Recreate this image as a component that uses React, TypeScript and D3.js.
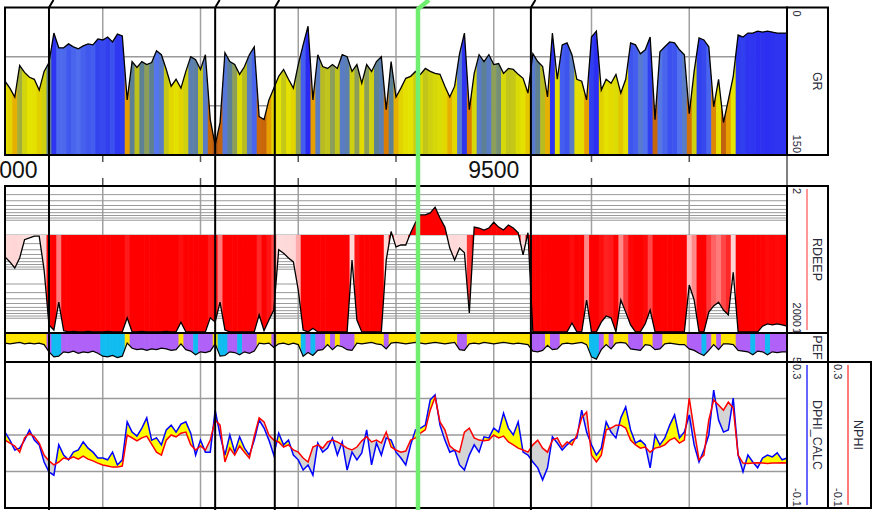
import React from "react";
import * as d3 from "d3";

// ---------------- data ----------------
const DEPTH_START = 9000;
const DEPTH_STEP = 5;
const DEPTH_DOMAIN = [9000, 9800];
const GRID_DEPTHS = [9000, 9100, 9200, 9300, 9400, 9500, 9600, 9700, 9800];
const LABEL_DEPTHS = [9000, 9500];
const TOP_DEPTHS = [9045, 9215, 9276, 9422.5, 9538];
const TOP_COLORS = ["#000", "#000", "#000", "#70ee70", "#000"];

const GR = [
  75, 82, 91, 59, 66, 71, 73, 84, 65, 56,
  26, 41, 41, 37, 40, 42, 39, 37, 38, 32,
  33, 30, 35, 27, 29, 94, 55, 61, 55, 58,
  56, 44, 48, 63, 80, 73, 82, 65, 50, 53,
  63, 48, 114, 140, 117, 46, 55, 58, 68, 60,
  48, 40, 111, 114, 94, 82, 70, 63, 73, 82,
  58, 38, 19, 94, 48, 60, 62, 58, 62, 48,
  50, 65, 58, 77, 58, 65, 55, 50, 104, 55,
  91, 82, 72, 70, 65, 68, 62, 65, 67, 68,
  80, 91, 80, 47, 26, 104, 67, 48, 55, 48,
  58, 57, 67, 62, 63, 68, 72, 87, 47, 55,
  60, 91, 26, 73, 38, 36, 48, 73, 75, 94,
  30, 24, 84, 73, 77, 68, 87, 73, 36, 38,
  47, 43, 30, 114, 45, 40, 35, 36, 43, 48,
  108, 65, 31, 33, 40, 101, 73, 117, 94, 70,
  28, 30, 26, 26, 24, 25, 24, 25, 26, 26,
  26,
];

const RDEEP = [
  56, 71, 94, 59, 25, 23, 21, 21, 103, 1370,
  1740, 470, 1800, 1900, 1850, 1900, 1900, 1850, 1900, 1900,
  1900, 1850, 1900, 1900, 1900, 980, 1900, 1900, 1850, 1900,
  1900, 1900, 1900, 1850, 1900, 1900, 1200, 1900, 1900, 1900,
  1900, 1900, 980, 1200, 470, 1740, 1900, 1900, 1900, 1900,
  1900, 1900, 850, 1800, 1090, 680, 40, 47, 59, 71,
  265, 1740, 1900, 1600, 1900, 1900, 1900, 1900, 1900, 1900,
  1900, 65, 1090, 1900, 1900, 1900, 1900, 1900, 65, 17,
  35, 32, 32, 18, 11, 7.8, 7.8, 7.1, 5.4, 9,
  13.8, 37, 65, 37, 46, 780, 13.8, 14.4, 15.8, 14.4,
  11, 13.8, 15.8, 12.5, 14.4, 18, 51, 18, 1900, 1900,
  1900, 1900, 1900, 1900, 1900, 1900, 1250, 1900, 1900, 424,
  1900, 1900, 1200, 900, 980, 1900, 424, 750, 1370, 1900,
  1900, 1300, 680, 1900, 1900, 1900, 1900, 1900, 1900, 1900,
  210, 424, 1900, 1900, 750, 560, 470, 680, 850, 115,
  1900, 1900, 1900, 1900, 1900, 1450, 1300, 1370, 1300, 1370,
  1450,
];

const PEF = [
  2.4, 2.5, 2.4, 2.3, 2.5, 2.4, 2.5, 2.4, 2.6, 3.6,
  4.3, 4.2, 3.6, 3.7, 3.5, 3.8, 3.6, 3.7, 3.5, 3.8,
  4.2, 4.3, 4.1, 4.4, 4.2, 2.4, 3.1, 3.3, 3.2, 3.4,
  3.2, 3.3, 3.1, 3.2, 3.4, 3.3, 2.5, 3.3, 3.5, 4.0,
  3.6, 3.7, 3.5, 2.5, 4.2, 4.1, 3.6, 3.7, 4.0, 3.6,
  3.8, 3.5, 2.4, 2.5, 2.4, 3.0, 2.5, 2.4, 2.6, 2.4,
  2.6, 4.2, 3.7, 4.1, 3.4, 3.3, 2.6, 3.3, 2.7, 2.9,
  3.3, 3.4, 2.4, 2.5, 2.4, 2.3, 2.5, 2.6, 3.2, 2.4,
  2.3, 2.4, 2.5, 2.4, 2.3, 2.4, 2.5, 2.4, 2.3, 2.4,
  2.5, 2.4, 2.3, 3.3, 3.4, 2.5, 2.4, 2.5, 2.3, 2.4,
  2.5, 2.4, 2.3, 2.4, 2.5, 2.4, 2.5, 2.6, 3.5, 3.6,
  3.4, 2.7, 3.3, 3.2, 2.5, 2.4, 2.5, 2.4, 2.3, 2.6,
  4.3, 4.6, 3.3, 2.6, 3.2, 2.4, 2.3, 2.4, 3.2, 3.3,
  3.4, 2.6, 2.7, 3.3, 3.2, 2.5, 2.4, 2.5, 2.6, 2.6,
  3.2, 3.4, 3.8, 4.1, 3.4, 2.6, 3.3, 2.5, 2.5, 2.6,
  3.4, 3.5, 3.6, 4.0, 3.5, 3.6, 4.0, 3.6, 3.7, 3.6,
  3.6,
];

const NPHI = [
  0.086, 0.078, 0.070, 0.053, 0.092, 0.105, 0.095, 0.078, 0.045, 0.029,
  0.018, 0.026, 0.037, 0.034, 0.040, 0.034, 0.042, 0.034, 0.029, 0.023,
  0.018, 0.015, 0.012, 0.012, 0.015, 0.100, 0.092, 0.084, 0.092, 0.097,
  0.075, 0.053, 0.045, 0.086, 0.100, 0.095, 0.105, 0.108, 0.073, 0.059,
  0.070, 0.059, 0.086, 0.141, 0.127, 0.026, 0.064, 0.045, 0.070, 0.053,
  0.037, 0.097, 0.147, 0.136, 0.100, 0.086, 0.081, 0.067, 0.073, 0.059,
  0.053, 0.037, 0.026, 0.067, 0.073, 0.064, 0.081, 0.086, 0.081, 0.073,
  0.064, 0.059, 0.067, 0.084, 0.095, 0.081, 0.086, 0.078, 0.108, 0.067,
  0.059, 0.053, 0.056, 0.086, 0.092, 0.105, 0.114, 0.168, 0.204, 0.136,
  0.114, 0.070, 0.059, 0.053, 0.108, 0.119, 0.092, 0.086, 0.084, 0.086,
  0.100, 0.092, 0.097, 0.081, 0.073, 0.064, 0.059, 0.053, 0.073, 0.086,
  0.064, 0.053, 0.086, 0.092, 0.067, 0.081, 0.073, 0.100, 0.147, 0.163,
  0.045, 0.026, 0.045, 0.114, 0.119, 0.127, 0.127, 0.119, 0.086, 0.073,
  0.064, 0.067, 0.053, 0.064, 0.067, 0.073, 0.086, 0.092, 0.078, 0.086,
  0.201, 0.114, 0.032, 0.045, 0.141, 0.196, 0.182, 0.168, 0.190, 0.174,
  0.045, 0.023, 0.022, 0.023, 0.024, 0.023, 0.022, 0.023, 0.023, 0.024,
  0.023,
];

const DPHI = [
  0.108, 0.086, 0.059, 0.064, 0.086, 0.114, 0.086, 0.073, 0.026, -0.001,
  -0.010, 0.073, 0.045, 0.032, 0.053, 0.059, 0.081, 0.064, 0.053, 0.037,
  0.037, 0.032, 0.053, 0.018, 0.032, 0.136, 0.108, 0.097, 0.119, 0.147,
  0.086, 0.092, 0.073, 0.114, 0.127, 0.108, 0.130, 0.136, 0.105, 0.045,
  0.086, 0.053, 0.053, 0.168, 0.100, 0.045, 0.100, 0.053, 0.095, 0.064,
  0.045, 0.086, 0.141, 0.119, 0.086, 0.045, 0.105, 0.073, 0.086, 0.045,
  0.032, 0.004, 0.018, -0.010, 0.078, 0.053, 0.064, 0.092, 0.045, 0.081,
  0.004, 0.053, 0.032, 0.051, 0.114, 0.018, 0.078, 0.045, 0.092, 0.086,
  0.053, 0.037, 0.018, 0.073, 0.114, 0.119, 0.127, 0.196, 0.210, 0.127,
  0.086, 0.053, 0.059, 0.018, 0.004, 0.045, 0.073, 0.053, 0.095, 0.092,
  0.119, 0.108, 0.160, 0.119, 0.100, 0.136, 0.053, 0.045, 0.026, 0.010,
  -0.023, 0.010, 0.095, 0.078, 0.059, 0.073, 0.086, 0.092, 0.168, 0.108,
  0.073, 0.045, 0.064, 0.136, 0.108, 0.092, 0.147, 0.177, 0.114, 0.078,
  0.086, 0.073, 0.010, 0.100, 0.073, 0.092, 0.127, 0.155, 0.092, 0.108,
  0.155, 0.073, 0.026, 0.059, 0.100, 0.223, 0.141, 0.108, 0.114, 0.201,
  0.045, -0.001, 0.045, 0.026, 0.010, 0.037, 0.045, 0.040, 0.051, 0.032,
  0.037,
];

const GR_GRID = [50, 100];
const RES_GRID = [2, 3, 4, 5, 6, 7, 8, 9, 10, 20, 30, 40, 50, 60, 70, 80, 90, 100, 200, 300, 400, 500, 600, 700, 800, 900, 1000, 2000];
const PHI_GRID = [0.2, 0.1, 0.0];

// ---------------- layout / style ----------------
const W = 874, H = 510;
const L = 5, R = 787, LG1 = 828, LG2 = 871;
const GR_T = 7.5, GR_B = 155;
const RD_T = 186, RD_B = 333;
const PE_T = 333, PE_B = 362;
const PH_T = 362, PH_B = 508;
const FONT = "'Liberation Sans', Arial, Helvetica, sans-serif";

const grColor = d3
  .scaleLinear<string>()
  .domain([22, 32, 44, 50, 56, 60, 70, 85, 95, 110, 130])
  .range(["#2a2af2", "#3344ee", "#5475ee", "#5b7fb0", "#5f8090", "#b8bc20", "#e4e400", "#e2d000", "#e89a00", "#d06a08", "#a85418"])
  .interpolate(d3.interpolateRgb)
  .clamp(true);

const resColorHi = d3
  .scaleLog<string>()
  .domain([20, 150, 400, 900, 1500])
  .range(["#ffe0e0", "#ffd2d2", "#ff9090", "#ff2020", "#ff0000"])
  .interpolate(d3.interpolateRgb)
  .clamp(true);
const resColor = (v: number) => (v < 20 ? "#ff0000" : resColorHi(v));
const pefColor = (v: number) => (v < 2.85 ? "#ffe400" : v < 3.95 ? "#b062f8" : "#10bcf0");

export default function App() {
  const depths = GR.map((_, i) => DEPTH_START + i * DEPTH_STEP);
  const x = d3.scaleLinear().domain(DEPTH_DOMAIN).range([L, R]);
  const grY = d3.scaleLinear().domain([0, 150]).range([GR_T, GR_B]);
  const rY = d3.scaleLog().domain([2, 2000]).range([RD_T, RD_B]).clamp(true);
  const pY = d3.scaleLinear().domain([1, 5]).range([PE_T, PE_B]).clamp(true);
  const phiY = d3.scaleLinear().domain([0.3, -0.1]).range([PH_T, PH_B]).clamp(true);

  const xi = (_: number, i: number) => x(depths[i]);
  const stripes = (vals: number[], color: (v: number) => string, y0: number, y1: number) =>
    vals.map((v, i) => {
      const a = Math.max(L, x(depths[i] - DEPTH_STEP / 2));
      const b = Math.min(R, x(depths[i] + DEPTH_STEP / 2));
      return <rect key={i} x={a} y={y0} width={b - a + 0.6} height={y1 - y0} fill={color(v)} />;
    });

  const grArea = d3.area<number>().x(xi).y0(GR_B).y1((v) => grY(v))(GR) || "";
  const grLine = d3.line<number>().x(xi).y((v) => grY(v))(GR) || "";
  const rArea = d3.area<number>().x(xi).y0(rY(20)).y1((v) => rY(v))(RDEEP) || "";
  const rLine = d3.line<number>().x(xi).y((v) => rY(v))(RDEEP) || "";
  const pArea = d3.area<number>().x(xi).y0(PE_T).y1((v) => pY(v))(PEF) || "";
  const pLine = d3.line<number>().x(xi).y((v) => pY(v))(PEF) || "";
  const betweenArea = d3.area<number>().x(xi).y0((_, i) => phiY(NPHI[i])).y1((v) => phiY(v))(DPHI) || "";
  const aboveN = d3.area<number>().x(xi).y0(PH_T).y1((v) => phiY(v))(NPHI) || "";
  const belowN = d3.area<number>().x(xi).y0((v) => phiY(v)).y1(PH_B)(NPHI) || "";
  const dLine = d3.line<number>().x(xi).y((v) => phiY(v))(DPHI) || "";
  const nLine = d3.line<number>().x(xi).y((v) => phiY(v))(NPHI) || "";

  const vGrid = (y0: number, y1: number, k: string) =>
    GRID_DEPTHS.filter((d) => d > DEPTH_DOMAIN[0] && d < DEPTH_DOMAIN[1]).map((d) => (
      <line key={k + d} x1={x(d)} x2={x(d)} y1={y0} y2={y1} stroke="#a0a0a0" strokeWidth={1.5} />
    ));

  const vText = (tx: number, ty: number, s: string, anchor: string, size: number, k: string) => (
    <text key={k} transform={`translate(${tx},${ty}) rotate(90)`} textAnchor={anchor} fontSize={size} fill="#2a2a3a" fontFamily={FONT}>
      {s}
    </text>
  );

  return (
    <svg width={W} height={H} style={{ position: "absolute", left: 0, top: 0, background: "#fff" }}>
      <defs>
        <clipPath id="cGR"><path d={grArea} /></clipPath>
        <clipPath id="cRD"><path d={rArea} /></clipPath>
        <clipPath id="cPE"><path d={pArea} /></clipPath>
        <clipPath id="cAbove"><path d={aboveN} /></clipPath>
        <clipPath id="cBelow"><path d={belowN} /></clipPath>
        <linearGradient id="gGR" x1="0" y1="0" x2="0" y2="1">
          <stop offset="0" stopColor="#4444ff" />
          <stop offset="0.3" stopColor="#5070d8" />
          <stop offset="0.38" stopColor="#8090a0" />
          <stop offset="0.44" stopColor="#e0e000" />
          <stop offset="0.5" stopColor="#e0c000" />
          <stop offset="0.6" stopColor="#c87830" />
          <stop offset="1" stopColor="#a06050" />
        </linearGradient>
        <linearGradient id="gPE" x1="0" y1="0" x2="0" y2="1">
          <stop offset="0" stopColor="#ffe400" />
          <stop offset="0.5" stopColor="#ffe400" />
          <stop offset="0.65" stopColor="#d08af0" />
          <stop offset="0.85" stopColor="#40c8f0" />
          <stop offset="1" stopColor="#40c8f0" />
        </linearGradient>
      </defs>

      {/* ---------- GR track ---------- */}
      {vGrid(GR_T, GR_B, "gv")}
      {GR_GRID.map((g) => (
        <line key={"gh" + g} x1={L} x2={R} y1={grY(g)} y2={grY(g)} stroke="#9a9a9a" strokeWidth={1.5} />
      ))}
      <g clipPath="url(#cGR)">{stripes(GR, (v) => grColor(v), GR_T, GR_B)}</g>
      <path d={grLine} fill="none" stroke="#000" strokeWidth={1.3} />

      {/* ---------- depth track ---------- */}
      {GRID_DEPTHS.filter((d) => !LABEL_DEPTHS.includes(d) && d < DEPTH_DOMAIN[1]).map((d) => (
        <g key={"dt" + d}>
          <line x1={x(d)} x2={x(d)} y1={GR_B} y2={GR_B + 7} stroke="#555" strokeWidth={1.5} />
          <line x1={x(d)} x2={x(d)} y1={RD_T - 8} y2={RD_T} stroke="#555" strokeWidth={1.5} />
        </g>
      ))}
      {LABEL_DEPTHS.map((d) => (
        <text key={"dl" + d} x={Math.max(x(d), 12)} y={178} textAnchor="middle" fontSize={23} fill="#111" fontFamily={FONT}>
          {d}
        </text>
      ))}
      <line x1={R} x2={R} y1={GR_B} y2={RD_T} stroke="#000" strokeWidth={1} />

      {/* ---------- RDEEP track ---------- */}
      {vGrid(RD_T, RD_B, "rv")}
      {RES_GRID.map((g) => (
        <line key={"rh" + g} x1={L} x2={R} y1={rY(g)} y2={rY(g)} stroke="#9a9a9a" strokeWidth={1} />
      ))}
      <g clipPath="url(#cRD)">{stripes(RDEEP, resColor, RD_T, RD_B)}</g>
      <path d={rLine} fill="none" stroke="#000" strokeWidth={1.3} />

      {/* ---------- PEF track ---------- */}
      {vGrid(PE_T, PE_B, "pv")}
      <g clipPath="url(#cPE)">{stripes(PEF, pefColor, PE_T, PE_B)}</g>
      <path d={pLine} fill="none" stroke="#000" strokeWidth={1.2} />

      {/* ---------- porosity track ---------- */}
      {vGrid(PH_T, PH_B, "hv")}
      {PHI_GRID.map((g) => (
        <line key={"hh" + g} x1={L} x2={R} y1={phiY(g)} y2={phiY(g)} stroke="#9a9a9a" strokeWidth={1.5} />
      ))}
      <path d={betweenArea} fill="#ffff00" clipPath="url(#cAbove)" />
      <path d={betweenArea} fill="#d4d4d4" clipPath="url(#cBelow)" />
      <path d={dLine} fill="none" stroke="#0000ff" strokeWidth={1.5} />
      <path d={nLine} fill="none" stroke="#ff0000" strokeWidth={1.5} />

      {/* ---------- frames ---------- */}
      <g fill="none" stroke="#000" strokeWidth={2}>
        <rect x={L} y={GR_T} width={R - L} height={GR_B - GR_T} />
        <rect x={R} y={GR_T} width={LG1 - R} height={GR_B - GR_T} />
        <rect x={L} y={RD_T} width={R - L} height={RD_B - RD_T} />
        <rect x={R} y={RD_T} width={LG1 - R} height={RD_B - RD_T} />
        <rect x={R} y={PE_T} width={LG1 - R} height={PE_B - PE_T} />
        <line x1={L} x2={L} y1={PE_T} y2={PE_B} />
        <rect x={L} y={PH_T} width={R - L} height={PH_B - PH_T} />
        <rect x={R} y={PH_T} width={LG1 - R} height={PH_B - PH_T} />
        <rect x={LG1} y={PH_T} width={LG2 - LG1} height={PH_B - PH_T} />
      </g>

      {/* ---------- legends ---------- */}
      <line x1={807} x2={807} y1={GR_T + 3} y2={GR_B - 3} stroke="url(#gGR)" strokeWidth={1.5} />
      {vText(793, GR_T + 3, "0", "start", 11, "l1")}
      {vText(793, GR_B - 2, "150", "end", 11, "l2")}
      {vText(813, (GR_T + GR_B) / 2, "GR", "middle", 12.5, "l3")}

      <line x1={807} x2={807} y1={RD_T + 3} y2={RD_B - 3} stroke="#ff5050" strokeWidth={1.2} />
      {vText(793, RD_T + 2, "2", "start", 11, "l4")}
      {vText(793, RD_B - 6, "2000", "end", 11, "l5")}
      {vText(813, (RD_T + RD_B) / 2, "RDEEP", "middle", 12.5, "l6")}

      <line x1={807} x2={807} y1={PE_T + 3} y2={PE_B - 3} stroke="url(#gPE)" strokeWidth={1.5} />
      {vText(793, PE_T + 1, "1", "end", 11, "l7")}
      {vText(793, PE_B + 1, "5", "end", 11, "l8")}
      {vText(813, (PE_T + PE_B) / 2, "PEF", "middle", 12.5, "l9")}

      <line x1={807} x2={807} y1={PH_T + 3} y2={PH_B - 3} stroke="#3333ff" strokeWidth={1.5} />
      {vText(793, PH_T + 2, "0.3", "start", 11, "l10")}
      {vText(793, PH_B - 1, "-0.1", "end", 11, "l11")}
      {vText(813, (PH_T + PH_B) / 2, "DPHI_CALC", "middle", 12.5, "l12")}

      <line x1={848} x2={848} y1={PH_T + 3} y2={PH_B - 3} stroke="#ff5050" strokeWidth={1.5} />
      {vText(834, PH_T + 2, "0.3", "start", 11, "l13")}
      {vText(834, PH_B - 1, "-0.1", "end", 11, "l14")}
      {vText(854, (PH_T + PH_B) / 2, "NPHI", "middle", 12.5, "l15")}

      {/* ---------- formation tops ---------- */}
      {TOP_DEPTHS.map((d, i) => {
        const tx = x(d);
        const green = TOP_COLORS[i] !== "#000";
        const ty = green ? 9 : 7.5;
        const slant = green ? 11 : 4.5;
        return (
          <path
            key={"top" + d}
            d={`M${tx},${H} L${tx},${ty} L${tx + slant},0`}
            fill="none"
            stroke={TOP_COLORS[i]}
            strokeWidth={green ? 4.5 : 2}
            strokeLinejoin="miter"
          />
        );
      })}
    </svg>
  );
}
